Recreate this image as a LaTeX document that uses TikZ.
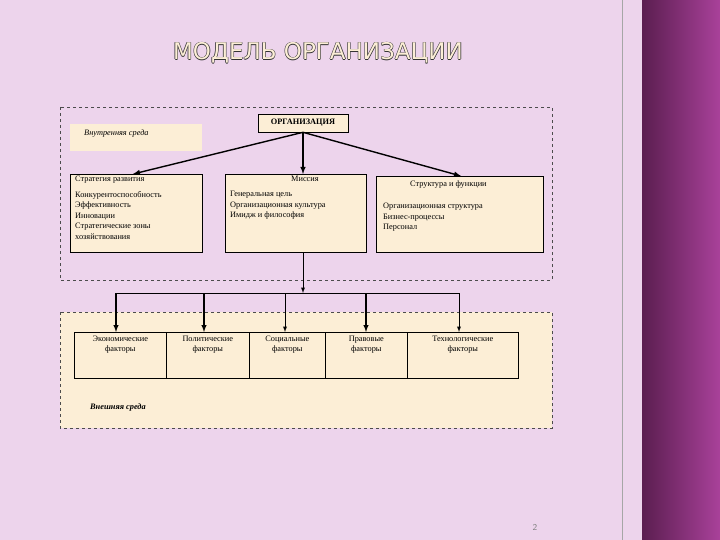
\documentclass[tikz,border=0pt]{standalone}
\usepackage{fontspec}
\setmainfont{Liberation Serif}
\newfontfamily\titlefont{DejaVu Sans}
\definecolor{bgpink}{HTML}{EDD4EC}
\definecolor{cream}{HTML}{FCEED6}
\definecolor{darkp}{HTML}{5B1E50}
\definecolor{magp}{HTML}{A9419A}
\begin{document}
\begin{tikzpicture}[x=1pt,y=-1pt,
  box/.style={draw=black,fill=cream,line width=0.6pt},
  txt/.style={font=\fontsize{8.3}{10.5}\selectfont,align=left,anchor=north west,inner sep=0pt},
  fac/.style={draw=black,fill=cream,line width=0.6pt,font=\fontsize{8.3}{10}\selectfont,align=center,minimum height=46pt,anchor=north west,inner sep=1pt,text depth=0pt},
  arr/.style={-latex,line width=1.4pt},
  arrt/.style={-latex,line width=0.9pt},
  dbox/.style={draw=black!70,dashed,line width=0.5pt},
  ttl/.style={font=\titlefont\fontsize{23}{25}\selectfont}]
\useasboundingbox (0,0) rectangle (720,540);
\fill[bgpink] (0,0) rectangle (720,540);
\shade[left color=darkp,right color=magp] (642,0) rectangle (720,540);
\draw[black!35,line width=0.6pt] (622,0) -- (622,540);
\foreach \dx/\dy [count=\i] in {-0.6/0,0.6/0,0/-0.6,0/0.6}
  \node[ttl,text=black!80] (tsh\i) at (318+\dx,53+\dy) {МОДЕЛЬ ОРГАНИЗАЦИИ};
\node[ttl,text=cream] (title) at (318,53) {МОДЕЛЬ ОРГАНИЗАЦИИ};
% upper area
\draw[dbox,fill=bgpink] (60,107) rectangle (552,280);
\node[box,font=\fontsize{8.3}{9}\selectfont\bfseries,minimum width=90pt,minimum height=18pt] (org) at (303,123) {ОРГАНИЗАЦИЯ};
\node[fill=cream,minimum width=132pt,minimum height=27pt,anchor=north west,inner sep=0pt] (inner) at (70,124) {};
\node[txt,font=\fontsize{8.3}{9}\selectfont\itshape] (innert) at (84,130) {Внутренняя среда};
\node[box,minimum width=132pt,minimum height=78pt,anchor=north west,inner sep=0pt] (s1) at (70,174) {};
\node[box,minimum width=141pt,minimum height=78pt,anchor=north west,inner sep=0pt] (s2) at (225,174) {};
\node[box,minimum width=167pt,minimum height=76pt,anchor=north west,inner sep=0pt] (s3) at (376,176) {};
\node[txt] (s1t) at (75,176) {Стратегия развития};
\node[txt] (s1b) at (75,191) {Конкурентоспособность\\Эффективность\\Инновации\\Стратегические зоны\\хозяйствования};
\node[txt] (s2t) at (291,176) {Миссия};
\node[txt] (s2b) at (230,191) {Генеральная цель\\Организационная культура\\Имидж и философия};
\node[txt] (s3t) at (410,181) {Структура и функции};
\node[txt] (s3b) at (383,203) {Организационная структура\\Бизнес-процессы\\Персонал};
\coordinate (s1in) at (133,174);
\coordinate (s2in) at (303,174);
\coordinate (s3in) at (461,176);
\coordinate (s2out) at (303,252);
\draw[arr] (org.south) -- (s1in);
\draw[arr] (org.south) -- (s2in);
\draw[arr] (org.south) -- (s3in);
% lower area
\draw[dbox,fill=cream] (60,312) rectangle (552,428);
\coordinate (hub) at (303,293);
\draw[arrt] (s2out) -- (hub);
\node[fac,minimum width=92pt] (f1) at (74,332) {Экономические\\факторы\\[14pt]};
\node[fac,minimum width=83pt] (f2) at (166,332) {Политические\\факторы\\[14pt]};
\node[fac,minimum width=76pt] (f3) at (249,332) {Социальные\\факторы\\[14pt]};
\node[fac,minimum width=82pt] (f4) at (325,332) {Правовые\\факторы\\[14pt]};
\node[fac,minimum width=111pt] (f5) at (407,332) {Технологические\\факторы\\[14pt]};
\draw[line width=0.9pt] (116,293) -- (459,293);
\draw[arr] (116,293) -- (116,332);
\draw[arr] (204,293) -- (204,332);
\draw[arrt] (285,293) -- (285,332);
\draw[arr] (366,293) -- (366,332);
\draw[arrt] (459,293) -- (459,332);
\node[txt,font=\fontsize{8.3}{9}\selectfont\itshape\bfseries] (outer) at (90,404) {Внешняя среда};
\node[font=\sffamily\fontsize{9}{10}\selectfont,text=black!50] (pg) at (535,527) {2};
\end{tikzpicture}
\end{document}
